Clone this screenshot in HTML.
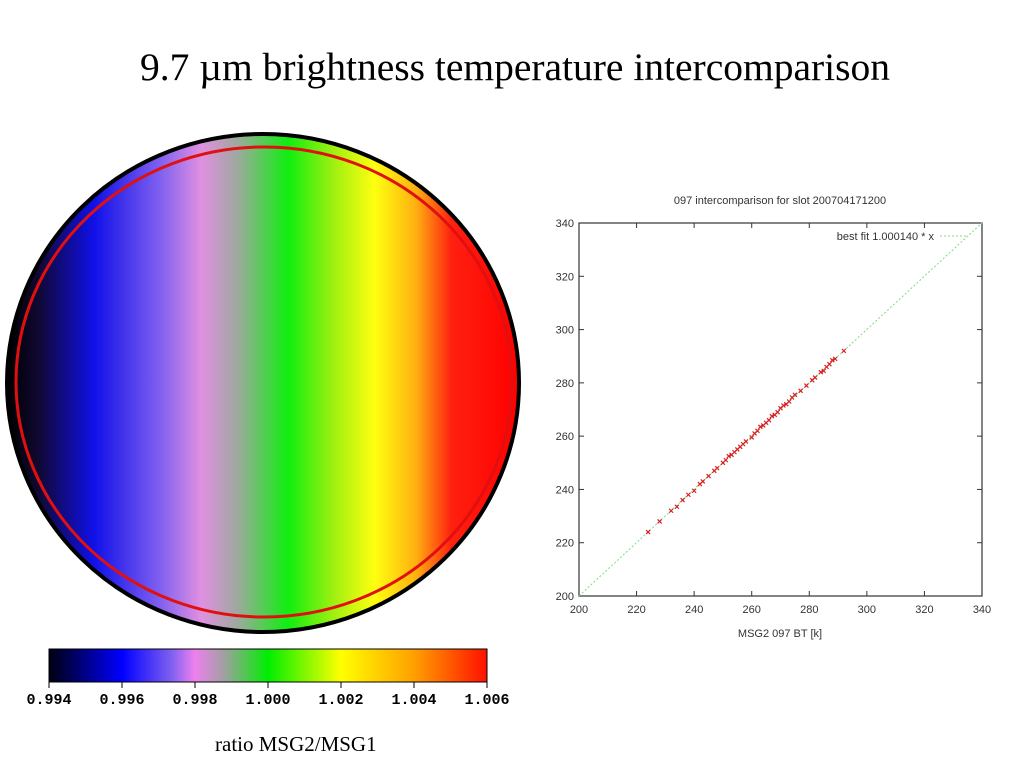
<!DOCTYPE html>
<html><head><meta charset="utf-8"><style>
body{margin:0;width:1024px;height:768px;background:#fff;overflow:hidden;position:relative;font-family:"Liberation Serif",serif}
.t{position:absolute}
</style></head><body>
<div class="t" style="left:0;width:1030px;top:44px;text-align:center;font-size:39.5px;">9.7 µm brightness temperature intercomparison</div>

<svg class="t" style="left:0;top:0" width="1024" height="768">
<defs>
<linearGradient id="disk" x1="7" x2="518" y1="0" y2="0" gradientUnits="userSpaceOnUse">
<stop offset="0" stop-color="#000"/><stop offset="0.06" stop-color="#100830"/><stop offset="0.17" stop-color="#1010e8"/>
<stop offset="0.3" stop-color="#8060f0"/><stop offset="0.38" stop-color="#e090e0"/><stop offset="0.45" stop-color="#a0a8a0"/>
<stop offset="0.55" stop-color="#10ee10"/><stop offset="0.64" stop-color="#a0f010"/><stop offset="0.72" stop-color="#ffff10"/>
<stop offset="0.8" stop-color="#ffb010"/><stop offset="0.87" stop-color="#ff2010"/><stop offset="1" stop-color="#ff0000"/>
</linearGradient>
<linearGradient id="cbar" x1="0" x2="1">
<stop offset="0" stop-color="#000010"/><stop offset="0.167" stop-color="#0000ff"/><stop offset="0.28" stop-color="#8060f0"/>
<stop offset="0.333" stop-color="#ee80ee"/><stop offset="0.4" stop-color="#a0a0a0"/><stop offset="0.5" stop-color="#00ee00"/>
<stop offset="0.667" stop-color="#ffff00"/><stop offset="0.833" stop-color="#ffa000"/><stop offset="1" stop-color="#ff1000"/>
</linearGradient>
</defs>
<ellipse cx="263" cy="383" rx="256" ry="249" fill="url(#disk)" stroke="#000" stroke-width="4"/>
<ellipse cx="264" cy="382" rx="248" ry="235" fill="none" stroke="#e01010" stroke-width="3"/>
<rect x="49" y="649" width="438" height="33" fill="url(#cbar)" stroke="#000" stroke-width="1"/>
<g id="cbticks" font-family="Liberation Mono, monospace" font-size="15" font-weight="bold" text-anchor="middle"></g>
<g id="scatter"></g>
</svg>
<div class="t" style="left:215px;top:732px;font-size:21px">ratio MSG2/MSG1</div>

<script>
const cbLabels=["0.994","0.996","0.998","1.000","1.002","1.004","1.006"];
const xTicks=[200,220,240,260,280,300,320,340];
const yTicks=[200,220,240,260,280,300,320,340];
const fitSlope=1.000140;
const msg2BT=[224,228,232,234,236,238,240,242,243,245,247,248,250,251,252,253,254,255,256,257,258,260,261,262,263,264,265,266,267,268,269,270,271,272,273,274,275,277,279,281,282,284,285,286,287,288,289,292];
const msg1BT=[224,228,232,233.5,236,238,239.5,242,243,245,247,248,250,251,252.5,253,254,255,256,257,258,259.5,261,262,263.5,264,265,266,267.5,268,269,270.5,271.5,272,273,274.5,275.5,277,279,281,282,284,284.5,286,287,288.5,289,292];
const NS='http://www.w3.org/2000/svg';
function mk(t,a,p){const e=document.createElementNS(NS,t);for(const k in a)e.setAttribute(k,a[k]);p.appendChild(e);return e;}
const cb=document.getElementById('cbticks');
cbLabels.forEach((l,i)=>{const x=49+438*i/(cbLabels.length-1);
 const t=mk('line',{x1:x,x2:x,y1:682,y2:688,stroke:'#000'},cb);
 
 
 const s=mk('text',{x:x,y:704},cb);s.textContent=l;
 
 });
const g=document.getElementById('scatter');
const L=579,R=982,T=223,B=596;
const sx=v=>L+(v-200)/140*(R-L), sy=v=>B-(v-200)/140*(B-T);
const f='Liberation Sans, sans-serif';
let e=mk('text',{x:780,y:204,'font-family':f,'font-size':11,'text-anchor':'middle',fill:'#333'},g);e.textContent='097 intercomparison for slot 200704171200';


xTicks.forEach(v=>{const x=sx(v);
 mk('line',{x1:x,x2:x,y1:B,y2:B-5,stroke:'#333'},g);mk('line',{x1:x,x2:x,y1:T,y2:T+5,stroke:'#333'},g);
 const t=mk('text',{x:x,y:B+17,'font-family':f,'font-size':11,'text-anchor':'middle',fill:'#333'},g);t.textContent=v;
 
 });
yTicks.forEach(v=>{const y=sy(v);
 mk('line',{x1:L,x2:L+5,y1:y,y2:y,stroke:'#333'},g);mk('line',{x1:R,x2:R-5,y1:y,y2:y,stroke:'#333'},g);
 const t=mk('text',{x:L-5,y:y+4,'font-family':f,'font-size':11,'text-anchor':'end',fill:'#333'},g);t.textContent=v;
 
 });
e=mk('rect',{x:L,y:T,width:R-L,height:B-T,fill:'none',stroke:'#333','stroke-width':1.2},g);


e=mk('line',{x1:sx(200),y1:sy(200*fitSlope),x2:sx(340),y2:sy(340*fitSlope),stroke:'#7ddc7d','stroke-dasharray':'2,2'},g);


e=mk('line',{x1:940,x2:968,y1:236,y2:236,stroke:'#7ddc7d','stroke-dasharray':'2,2'},g);


e=mk('text',{x:934,y:240,'font-family':f,'font-size':11,'text-anchor':'end',fill:'#333'},g);e.textContent='best fit 1.000140 * x';


e=mk('text',{x:780,y:637,'font-family':f,'font-size':11,'text-anchor':'middle',fill:'#333'},g);e.textContent='MSG2 097 BT [k]';


msg2BT.forEach((v,i)=>{const x=sx(v),y=sy(msg1BT[i]);
 const p=mk('path',{d:`M${x-2},${y-2}L${x+2},${y+2}M${x-2},${y+2}L${x+2},${y-2}`,stroke:'#d82020','stroke-width':1.2},g);
 
 });
</script>
</body></html>
